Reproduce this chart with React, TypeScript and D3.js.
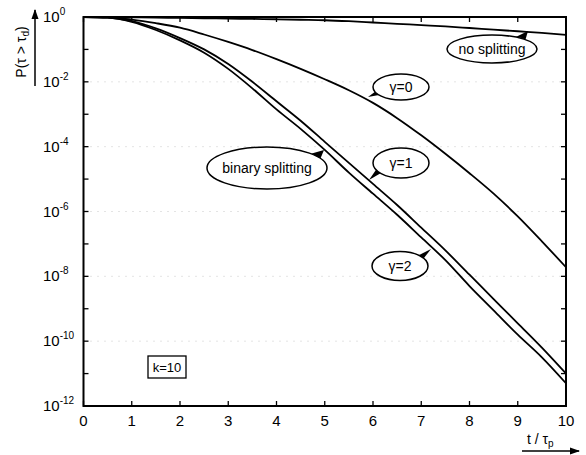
import * as d3 from 'd3';

// survival probability P(tau > tau_d) vs t/tau_p, values stored as log10
const tValues = [0, 0.5, 1, 1.5, 2, 2.5, 3, 3.5, 4, 4.5, 5, 5.5, 6, 6.5, 7, 7.5, 8, 8.5, 9, 9.5, 10];
const noSplittingLog = [0, -0.005, -0.01, -0.02, -0.03, -0.04, -0.05, -0.06, -0.07, -0.085, -0.1, -0.13, -0.17, -0.21, -0.25, -0.29, -0.34, -0.39, -0.44, -0.49, -0.55];
const gamma0Log = [0, -0.01, -0.08, -0.19, -0.33, -0.54, -0.77, -1.02, -1.3, -1.6, -1.92, -2.26, -2.65, -3.12, -3.65, -4.22, -4.82, -5.45, -6.15, -6.92, -7.72];
const gamma1Log = [0, -0.02, -0.13, -0.35, -0.65, -1.0, -1.45, -2.0, -2.6, -3.2, -3.85, -4.5, -5.15, -5.8, -6.5, -7.2, -7.95, -8.7, -9.45, -10.2, -11.0];
const binaryLog = [0, -0.02, -0.15, -0.4, -0.72, -1.1, -1.6, -2.2, -2.85, -3.45, -4.1, -4.8, -5.45, -6.1, -6.8, -7.5, -8.3, -9.05, -9.8, -10.5, -11.3];

const xTicks = [0, 1, 2, 3, 4, 5, 6, 7, 8, 9, 10];
const yDecades = [0, -1, -2, -3, -4, -5, -6, -7, -8, -9, -10, -11, -12];
const yLabelDecades = [0, -2, -4, -6, -8, -10, -12];

const width = 586;
const height = 455;
const left = 83.5;
const right = 566;
const top = 17;
const bottom = 406;
const font = '"Liberation Sans", Arial, sans-serif';

// labels: ellipse centre, radii, pointer tip
const bubbles = [
  { text: 'no splitting', cx: 492, cy: 49, rx: 45, ry: 14, tipX: 528, tipY: 31, baseAngle: -50 },
  { text: 'γ=0', cx: 401, cy: 87, rx: 28, ry: 13, tipX: 368, tipY: 97, baseAngle: 150 },
  { text: 'binary splitting', cx: 267, cy: 168, rx: 60, ry: 21, tipX: 324, tipY: 150, baseAngle: -35 },
  { text: 'γ=1', cx: 401, cy: 163, rx: 28, ry: 15, tipX: 369, tipY: 180, baseAngle: 145 },
  { text: 'γ=2', cx: 400, cy: 266, rx: 28, ry: 14.5, tipX: 431, tipY: 249, baseAngle: -40 },
];

function App() {
  const x = d3.scaleLinear().domain([0, 10]).range([left, right]);
  const y = d3.scaleLog().domain([1e-12, 1]).range([bottom, top]);

  const line = d3
    .line<number>()
    .x((d, i) => x(tValues[i]))
    .y((d) => y(Math.pow(10, d)))
    .curve(d3.curveMonotoneX);

  const series = [noSplittingLog, gamma0Log, gamma1Log, binaryLog];

  const pointer = (b) => {
    const a = (b.baseAngle * Math.PI) / 180;
    const spread = 0.14;
    const p1 = [b.cx + b.rx * Math.cos(a - spread), b.cy + b.ry * Math.sin(a - spread)];
    const p2 = [b.cx + b.rx * Math.cos(a + spread), b.cy + b.ry * Math.sin(a + spread)];
    return `M${p1[0]},${p1[1]}L${b.tipX},${b.tipY}L${p2[0]},${p2[1]}Z`;
  };

  return (
    <svg width={width} height={height} style={{ position: 'absolute', left: 0, top: 0, background: '#fff' }}>
      <defs>
        <marker id="arr" viewBox="0 0 10 10" refX="9" refY="5" markerWidth="7" markerHeight="7" orient="auto">
          <path d="M0,1.5L10,5L0,8.5Z" fill="#000" />
        </marker>
      </defs>

      {/* faint dotted grid */}
      {yLabelDecades.slice(1, -1).map((d) => (
        <line key={'g' + d} x1={left} x2={right} y1={y(Math.pow(10, d))} y2={y(Math.pow(10, d))}
          stroke="#bbb" strokeWidth={0.8} strokeDasharray="1 6" />
      ))}

      {/* curves */}
      {series.map((s, i) => (
        <path key={i} d={line(s) || ''} fill="none" stroke="#000" strokeWidth={1.8} />
      ))}

      {/* frame */}
      <rect x={left} y={top} width={right - left} height={bottom - top} fill="none" stroke="#000" strokeWidth={2} />

      {/* x ticks */}
      {xTicks.map((t) => (
        <g key={'x' + t}>
          <line x1={x(t)} x2={x(t)} y1={bottom} y2={bottom - 5} stroke="#000" strokeWidth={1.3} />
          <line x1={x(t)} x2={x(t)} y1={top} y2={top + 5} stroke="#000" strokeWidth={1.3} />
          <text x={x(t)} y={bottom + 20} textAnchor="middle" fontFamily={font} fontSize={15}>{t}</text>
        </g>
      ))}

      {/* y ticks */}
      {yDecades.map((d) => (
        <g key={'y' + d}>
          <line x1={left} x2={left + 5} y1={y(Math.pow(10, d))} y2={y(Math.pow(10, d))} stroke="#000" strokeWidth={1.3} />
          <line x1={right} x2={right - 5} y1={y(Math.pow(10, d))} y2={y(Math.pow(10, d))} stroke="#000" strokeWidth={1.3} />
        </g>
      ))}
      {yLabelDecades.map((d) => (
        <text key={'yl' + d} x={43} y={y(Math.pow(10, d)) + 5} fontFamily={font} fontSize={15}>
          10<tspan fontSize={10} dy={-7}>{d === 0 ? '0' : '-' + -d}</tspan>
        </text>
      ))}

      {/* y axis title with arrow */}
      <text transform="translate(26,52) rotate(-90)" textAnchor="middle" fontFamily={font} fontSize={14}>
        P(τ &gt; τ<tspan fontSize={10} dy={3}>d</tspan><tspan dy={-3}>)</tspan>
      </text>
      <line x1={35} x2={35} y1={86} y2={10} stroke="#000" strokeWidth={1.5} markerEnd="url(#arr)" />

      {/* x axis title with arrow */}
      <text x={527} y={444} fontFamily={font} fontSize={14}>
        t / τ<tspan fontSize={10} dy={3}>p</tspan>
      </text>
      <line x1={522} x2={579} y1={451} y2={451} stroke="#000" strokeWidth={1.5} markerEnd="url(#arr)" />

      {/* bubbles */}
      {bubbles.map((b) => (
        <g key={b.text}>
          <path d={pointer(b)} fill="#000" />
          <ellipse cx={b.cx} cy={b.cy} rx={b.rx} ry={b.ry} fill="#fff" stroke="#000" strokeWidth={1.5} />
          <text x={b.cx} y={b.cy + 5} textAnchor="middle" fontFamily={font} fontSize={14}>{b.text}</text>
        </g>
      ))}

      {/* k box */}
      <rect x={148} y={356} width={38} height={22} fill="#fff" stroke="#000" strokeWidth={1.3} />
      <text x={167} y={372} textAnchor="middle" fontFamily={font} fontSize={13}>k=10</text>
    </svg>
  );
}

export default App;
